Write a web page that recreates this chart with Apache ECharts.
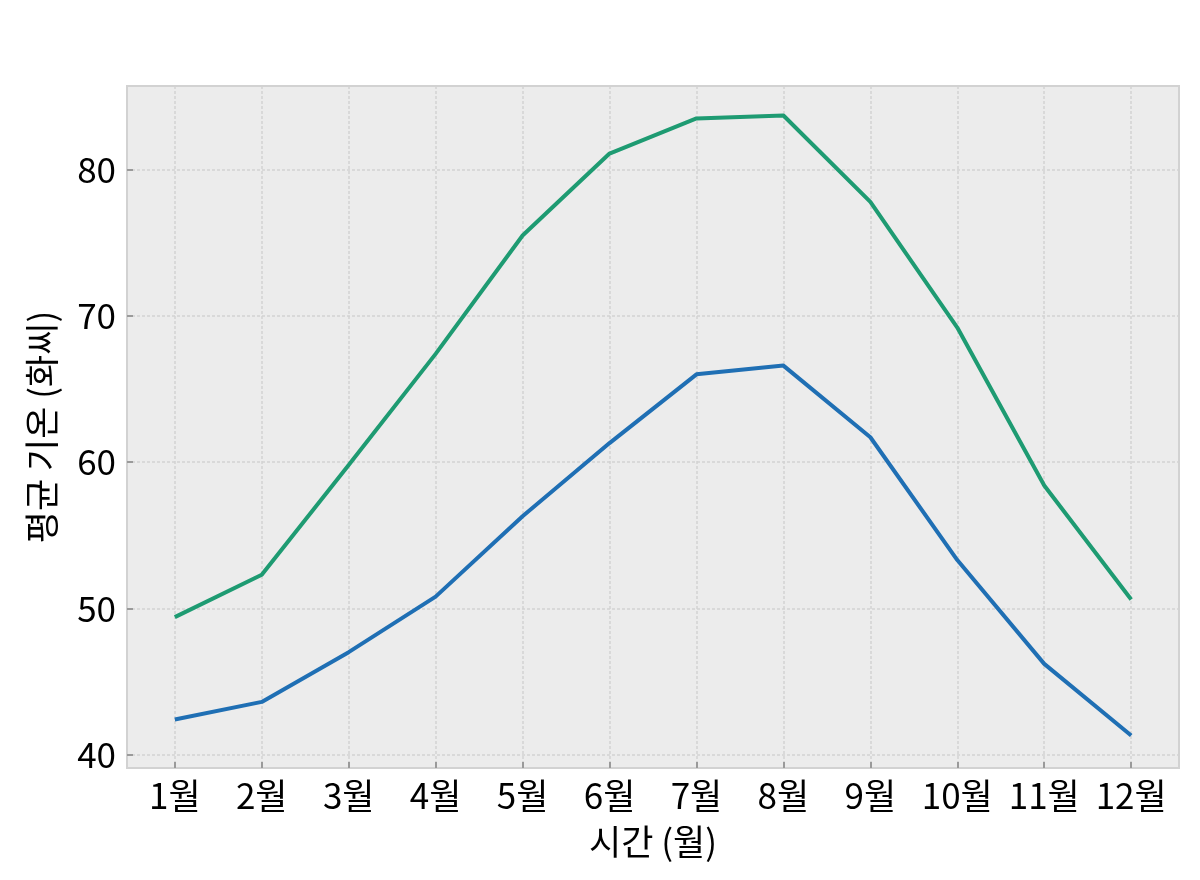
<!DOCTYPE html>
<html>
<head>
<meta charset="utf-8">
<script src="https://cdn.jsdelivr.net/npm/echarts@6/dist/echarts.min.js"></script>
<style>
  html, body { margin: 0; padding: 0; background: #fff; }
  #chart { width: 1200px; height: 880px; }
</style>
</head>
<body>
<div id="chart"></div>
<script>
// 월 (x 위치)
const months = [1, 2, 3, 4, 5, 6, 7, 8, 9, 10, 11, 12]
const monthLabels = ['1월', '2월', '3월', '4월', '5월', '6월', '7월', '8월', '9월', '10월', '11월', '12월']
// 평균 최고 / 최저 기온 (화씨)
const highTemps = [49.4, 52.3, 59.8, 67.4, 75.5, 81.1, 83.5, 83.7, 77.8, 69.2, 58.4, 50.6]
const lowTemps = [42.4, 43.6, 47.0, 50.8, 56.3, 61.3, 66.0, 66.6, 61.7, 53.3, 46.2, 41.3]
const yTicks = [40, 50, 60, 70, 80]

const font = '"Noto Sans CJK KR", "Noto Sans", sans-serif'

function pairs (ys) {
  return months.map((m, i) => [m, ys[i]])
}

const chart = echarts.init(document.getElementById('chart'))

chart.setOption({
  animation: false,
  grid: {
    left: 127,
    right: 21,
    top: 86,
    bottom: 112,
    show: true,
    backgroundColor: '#ececec',
    borderColor: '#d2d2d2',
    borderWidth: 2
  },
  xAxis: {
    type: 'value',
    min: 0.45,
    max: 12.55,
    name: '시간 (월)',
    nameLocation: 'middle',
    nameGap: 56,
    nameTextStyle: { fontFamily: font, fontSize: 35, color: '#000' },
    axisLine: { show: false },
    axisTick: {
      show: true,
      inside: true,
      length: 6,
      customValues: months,
      lineStyle: { color: '#9a9a9a', width: 2 }
    },
    axisLabel: {
      customValues: months,
      formatter: v => monthLabels[months.indexOf(v)] || '',
      fontFamily: font,
      fontSize: 35,
      color: '#000',
      margin: 10
    },
    splitLine: {
      show: true,
      lineStyle: { color: '#d2d2d2', width: 1.5, type: [3, 2] }
    }
  },
  yAxis: {
    type: 'value',
    min: 39.08,
    max: 85.72,
    name: '평균 기온 (화씨)',
    nameLocation: 'middle',
    nameRotate: 90,
    nameGap: 68,
    nameTextStyle: { fontFamily: font, fontSize: 35, color: '#000' },
    axisLine: { show: false },
    axisTick: {
      show: true,
      inside: true,
      length: 6,
      customValues: yTicks,
      lineStyle: { color: '#9a9a9a', width: 2 }
    },
    axisLabel: {
      customValues: yTicks,
      fontFamily: font,
      fontSize: 35,
      color: '#000',
      margin: 11
    },
    splitLine: {
      show: true,
      lineStyle: { color: '#d2d2d2', width: 1.5, type: [3, 2] }
    }
  },
  series: [
    {
      name: '최고',
      type: 'line',
      data: pairs(highTemps),
      showSymbol: false,
      lineStyle: { color: '#1e9b72', width: 4 },
      itemStyle: { color: '#1e9b72' }
    },
    {
      name: '최저',
      type: 'line',
      data: pairs(lowTemps),
      showSymbol: false,
      lineStyle: { color: '#1f6fb4', width: 4 },
      itemStyle: { color: '#1f6fb4' }
    }
  ]
})
</script>
</body>
</html>
